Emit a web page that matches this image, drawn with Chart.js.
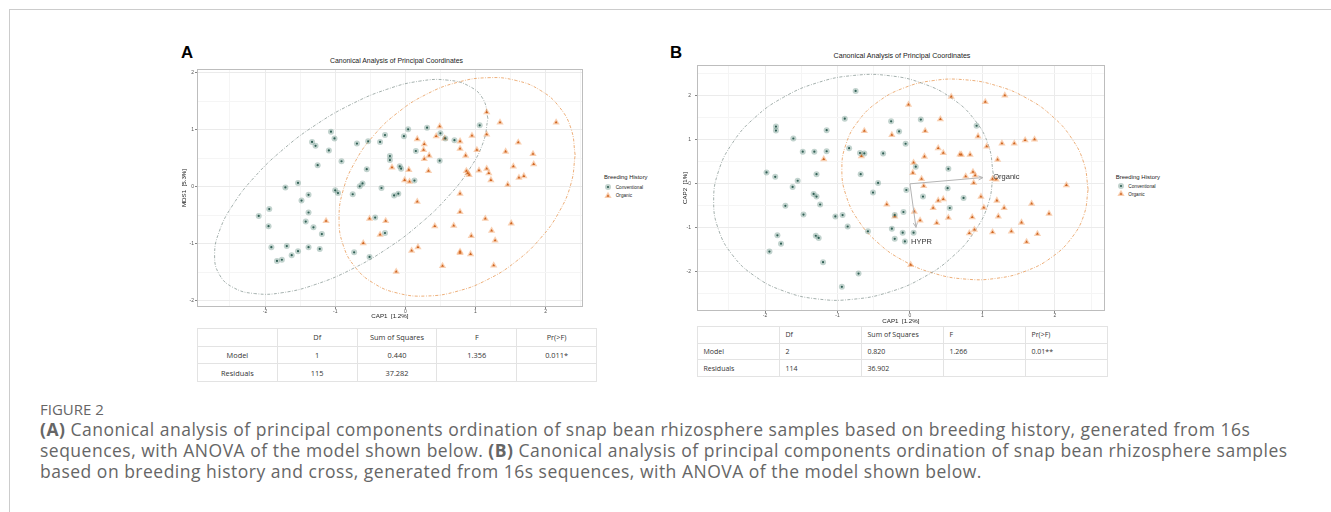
<!DOCTYPE html>
<html><head><meta charset="utf-8">
<script src="https://cdn.jsdelivr.net/npm/chart.js@4.4.0/dist/chart.umd.min.js"></script>
<style>
html,body{margin:0;padding:0;background:#fff;}
body{width:1331px;height:512px;position:relative;overflow:hidden;font-family:'Liberation Sans',Arial,sans-serif;}
.abs{position:absolute;white-space:nowrap;}
canvas{position:absolute;}
table.anova{position:absolute;border-collapse:collapse;table-layout:fixed;font-family:'Open Sans',sans-serif;color:#333;background:#fff;}
table.anova td{border:1px solid #e3e3e3;padding:0;overflow:hidden;white-space:nowrap;box-sizing:border-box;}
</style></head><body>
<div class="abs" style="left:9px;top:9px;width:1330px;height:510px;border-left:1px solid #cccccc;border-top:1px solid #cccccc;"></div>

<div class="abs" style="left:181px;top:45px;font-weight:bold;font-size:16.8px;line-height:16.8px;color:#000;">A</div>
<div class="abs" style="left:670px;top:45px;font-weight:bold;font-size:16.8px;line-height:16.8px;color:#000;">B</div>
<div class="abs" id="titleA" style="left:396.5px;top:55.7px;transform:translateX(-50%);font-size:6.9px;line-height:10px;color:#222;">Canonical Analysis of Principal Coordinates</div>
<div class="abs" id="titleB" style="left:902px;top:50.7px;transform:translateX(-50%);font-size:7.1px;line-height:10px;color:#222;">Canonical Analysis of Principal Coordinates</div>

<canvas id="chartA" width="412" height="256" style="left:175px;top:64px;"></canvas>
<canvas id="chartB" width="431" height="267" style="left:678px;top:58px;"></canvas>

<div id="legends"></div>
<div id="tables"></div>

<div class="abs" style="left:40px;top:400px;font-family:'Open Sans',sans-serif;font-size:15px;line-height:18px;color:#666;">FIGURE 2</div>
<div class="abs" style="left:40px;top:418.5px;font-family:'Open Sans',sans-serif;font-size:17.5px;letter-spacing:0.5px;line-height:21px;color:#666;">
<b>(A)</b> Canonical analysis of principal components ordination of snap bean rhizosphere samples based on breeding history, generated from 16s<br>
sequences, with ANOVA of the model shown below. <b>(B)</b> Canonical analysis of principal components ordination of snap bean rhizosphere samples<br>
based on breeding history and cross, generated from 16s sequences, with ANOVA of the model shown below.
</div>

<script>
// ---------------- data ----------------
const convA = [[-2.09,-0.51],[-1.94,-0.39],[-1.95,-0.69],[-1.91,-1.06],[-1.83,-1.30],[-1.76,-1.28],[-1.69,-1.04],[-1.62,-1.20],[-1.53,-1.13],[-1.38,-1.06],[-1.22,-1.09],[-1.71,-0.01],[-1.53,0.07],[-1.48,-0.24],[-1.38,-0.14],[-1.38,-0.45],[-1.42,-0.61],[-1.31,-0.71],[-1.19,-0.83],[-1.33,0.79],[-1.28,0.72],[-1.25,0.38],[-1.06,0.97],[-1.01,0.85],[-1.09,0.64],[-0.91,0.45],[-1.00,-0.06],[-0.96,-0.11],[-0.69,0.76],[-0.53,0.80],[-0.55,0.31],[-0.65,0.01],[-0.61,0.06],[-0.75,-0.13],[-0.43,-0.54],[-0.29,-0.81],[-0.73,-1.15],[-0.51,-1.23],[-0.36,0.79],[-0.29,0.91],[-0.34,-0.02],[-0.22,0.54],[-0.22,0.47],[-0.16,-0.15],[-0.10,-0.12],[-0.08,0.36],[-0.06,0.32],[-0.02,0.89],[0.04,1.01],[0.13,0.11],[0.15,0.63],[0.31,1.04],[0.50,0.94],[0.49,0.46],[0.57,0.85],[0.70,0.82],[1.06,1.08]];
const orgA = [[-1.13,-0.60],[-0.51,-0.56],[-0.28,-0.60],[-0.36,-0.84],[-0.60,-0.99],[-0.13,-1.49],[0.09,-1.12],[0.18,-1.06],[-0.19,0.34],[0.05,0.30],[-0.01,0.12],[0.06,0.09],[0.17,-0.26],[0.17,0.84],[0.27,0.75],[0.26,0.65],[0.27,0.49],[0.34,0.55],[0.33,0.28],[0.49,1.06],[0.44,0.89],[0.56,0.85],[0.78,0.80],[0.78,0.67],[0.86,0.55],[0.95,0.90],[1.02,0.65],[1.16,1.31],[1.16,0.92],[1.35,1.13],[2.15,1.13],[0.87,0.28],[0.89,0.24],[0.91,0.21],[1.05,0.29],[1.16,0.32],[1.19,0.24],[1.22,0.12],[1.43,0.62],[1.61,0.78],[1.82,0.58],[1.54,0.36],[1.83,0.40],[1.62,0.16],[1.69,0.19],[1.46,0.04],[0.78,-0.12],[0.78,-0.44],[0.42,-0.69],[0.69,-0.68],[1.14,-0.56],[1.51,-0.64],[0.94,-0.86],[1.23,-0.77],[1.28,-0.94],[0.78,-1.14],[0.78,-1.16],[0.93,-1.18],[0.53,-1.39],[1.26,-1.38]];
const convB = [[-0.75,2.11],[-0.90,1.48],[-1.15,1.22],[-1.85,1.30],[-1.85,1.21],[-1.61,1.03],[-1.48,0.73],[-1.32,0.73],[-1.15,0.74],[-0.84,0.81],[-0.69,0.70],[-0.63,0.69],[-0.37,0.69],[-1.98,0.26],[-1.86,0.16],[-1.29,0.22],[-1.55,0.07],[-1.62,-0.07],[-0.68,0.22],[-0.44,0.02],[-0.51,-0.20],[-1.33,-0.23],[-1.29,-0.29],[-1.24,-0.47],[-1.72,-0.50],[-1.47,-0.70],[-1.03,-0.74],[-0.93,-0.71],[-0.86,-0.97],[-1.83,-1.17],[-1.78,-1.36],[-1.94,-1.54],[-1.30,-1.18],[-1.26,-1.23],[-1.20,-1.78],[-0.71,-2.04],[-0.94,-2.34],[-0.58,-1.08],[-0.26,1.42],[-0.15,1.19],[-0.06,0.91],[0.15,1.46],[0.08,0.39],[-0.05,-0.14],[0.18,-0.29],[-0.09,-0.64],[-0.21,-0.71],[-0.25,-1.02],[-0.21,-1.25],[-0.10,-1.11],[-0.07,-1.31],[0.05,-1.11],[0.53,0.34],[0.52,-0.10],[0.55,-0.55],[0.74,-0.32],[0.92,1.32]];
const orgB = [[-0.02,1.80],[0.57,1.98],[1.04,1.86],[1.31,2.01],[0.42,1.47],[-0.63,1.20],[-0.25,1.11],[0.21,1.20],[0.94,1.08],[1.06,0.85],[1.27,0.92],[1.44,0.92],[1.59,0.99],[1.72,1.01],[-1.19,0.56],[-0.67,0.63],[0.20,0.62],[0.39,0.81],[0.46,0.70],[0.69,0.67],[0.71,0.66],[0.83,0.66],[1.21,0.55],[0.05,0.48],[0.04,0.25],[0.77,0.17],[0.87,0.27],[0.90,0.19],[0.88,0.02],[1.14,0.11],[1.19,0.10],[0.16,0.11],[0.19,-0.05],[2.16,-0.03],[0.98,-0.29],[1.20,-0.38],[0.39,-0.38],[0.46,-0.35],[0.32,-0.55],[-0.32,-0.47],[-0.21,-0.74],[0.06,-0.63],[0.14,-0.83],[0.37,-0.89],[0.53,-0.77],[0.86,-0.76],[1.02,-0.54],[1.22,-0.74],[1.30,-0.55],[1.68,-0.45],[1.92,-0.68],[1.54,-0.88],[0.89,-1.04],[0.82,-1.12],[1.14,-1.10],[1.40,-1.08],[1.76,-1.14],[1.61,-1.32],[0.01,-1.84]];

const ellConvA = [[1.177,1.201],[1.111,1.536],[0.916,1.765],[0.606,1.874],[0.203,1.857],[-0.266,1.712],[-0.771,1.450],[-1.276,1.090],[-1.745,0.655],[-2.148,0.176],[-2.458,-0.315],[-2.653,-0.784],[-2.719,-1.201],[-2.653,-1.536],[-2.458,-1.765],[-2.148,-1.874],[-1.745,-1.857],[-1.276,-1.712],[-0.771,-1.450],[-0.266,-1.090],[0.203,-0.655],[0.606,-0.176],[0.916,0.315],[1.111,0.784]];
const ellOrgA = [[2.421,0.560],[2.364,1.016],[2.196,1.402],[1.928,1.693],[1.580,1.868],[1.174,1.917],[0.738,1.834],[0.302,1.627],[-0.104,1.308],[-0.452,0.901],[-0.720,0.432],[-0.888,-0.066],[-0.945,-0.560],[-0.888,-1.016],[-0.720,-1.402],[-0.452,-1.693],[-0.104,-1.868],[0.302,-1.917],[0.738,-1.834],[1.174,-1.627],[1.580,-1.308],[1.928,-0.901],[2.196,-0.432],[2.364,0.066]];
const ellConvB = [[1.150,0.227],[1.084,0.875],[0.891,1.457],[0.585,1.934],[0.185,2.275],[-0.280,2.456],[-0.780,2.462],[-1.280,2.296],[-1.745,1.967],[-2.145,1.500],[-2.451,0.925],[-2.644,0.281],[-2.710,-0.387],[-2.644,-1.035],[-2.451,-1.617],[-2.145,-2.094],[-1.745,-2.435],[-1.280,-2.616],[-0.780,-2.622],[-0.280,-2.456],[0.185,-2.127],[0.585,-1.660],[0.891,-1.085],[1.084,-0.441]];
const ellOrgB = [[2.460,-0.128],[2.402,0.466],[2.232,1.035],[1.962,1.540],[1.610,1.947],[1.200,2.228],[0.760,2.364],[0.320,2.346],[-0.090,2.175],[-0.442,1.862],[-0.712,1.429],[-0.882,0.906],[-0.940,0.328],[-0.882,-0.266],[-0.712,-0.835],[-0.442,-1.340],[-0.090,-1.747],[0.320,-2.028],[0.760,-2.164],[1.200,-2.146],[1.610,-1.975],[1.962,-1.662],[2.232,-1.229],[2.402,-0.706]];

const arrowOrganicB = [[0,0],[1.008,0.142]];
const arrowHyprB = [[0,0],[0.083,-0.99]];
const vectorLabelsB = [{text:'Organic', x:1.15, y:0.16}, {text:'HYPR', x:0.015, y:-1.31}];

const ticksX = [-2.5,-2,-1.5,-1,-0.5,0,0.5,1,1.5,2,2.5];
const ticksYA = [-2,-1.5,-1,-0.5,0,0.5,1,1.5,2];
const ticksYB = [-2.5,-2,-1.5,-1,-0.5,0,0.5,1,1.5,2,2.5];
const rangeA = {xmin:-2.97, xmax:2.53, ymin:-2.11, ymax:2.07};
const rangeB = {xmin:-2.94, xmax:2.69, ymin:-2.89, ymax:2.70};

const groups = ['Conventional','Organic'];
const legendTitle = 'Breeding History';
const tableHeader = ['', 'Df', 'Sum of Squares', 'F', 'Pr(>F)'];
const tableA = [['Model','1','0.440','1.356','0.011*'],['Residuals','115','37.282','','']];
const tableB = [['Model','2','0.820','1.266','0.01**'],['Residuals','114','36.902','','']];

// ---------------- styles ----------------
const FONT = "'Liberation Sans', Arial, sans-serif";
const COL = {convBg:'rgba(110,150,138,0.42)', convDot:'#2f5f54', orgBg:'rgba(244,160,100,0.50)', orgDot:'#cf6520', convEll:'#8d9c98', orgEll:'#e99a58', arrow:'#b4b4b4'};

function pts(a){return a.map(p=>({x:p[0],y:p[1]}));}
function closed(a){return pts(a.concat([a[0]]));}

const borderPlugin = {
  id:'panelBorder',
  afterDraw(chart, args, opts){
    const {ctx, chartArea:a} = chart;
    ctx.save(); ctx.strokeStyle = opts.color || '#bbb'; ctx.lineWidth = 1;
    ctx.strokeRect(Math.round(a.left)+0.5, Math.round(a.top)+0.5, Math.round(a.right-a.left)-1, Math.round(a.bottom-a.top)-1);
    ctx.restore();
  }
};
const arrowPlugin = {
  id:'arrowHeads',
  afterDatasetsDraw(chart){
    const ctx = chart.ctx;
    chart.data.datasets.forEach((ds,i)=>{
      if(!ds.arrowHead) return;
      const m = chart.getDatasetMeta(i);
      const p0 = m.data[0], p1 = m.data[m.data.length-1];
      const ang = Math.atan2(p1.y-p0.y, p1.x-p0.x), L = 5, w = 0.42;
      ctx.save(); ctx.strokeStyle = ds.borderColor; ctx.lineWidth = 1;
      ctx.beginPath();
      ctx.moveTo(p1.x - L*Math.cos(ang-w), p1.y - L*Math.sin(ang-w));
      ctx.lineTo(p1.x, p1.y);
      ctx.lineTo(p1.x - L*Math.cos(ang+w), p1.y - L*Math.sin(ang+w));
      ctx.stroke(); ctx.restore();
    });
  }
};
const labelPlugin = {
  id:'vecLabels',
  afterDatasetsDraw(chart, args, opts){
    const items = opts.items || [];
    const ctx = chart.ctx;
    ctx.save(); ctx.fillStyle = '#333'; ctx.font = "7.5px " + FONT; ctx.textAlign='left'; ctx.textBaseline='middle';
    items.forEach(it=>{
      ctx.fillText(it.text, chart.scales.x.getPixelForValue(it.x), chart.scales.y.getPixelForValue(it.y));
    });
    ctx.restore();
  }
};

function axis(pos, min, max, tickList, title, o){
  const isInt = c => c && c.tick && Number.isInteger(c.tick.value);
  return {
    type:'linear', position:pos, min:min, max:max,
    afterBuildTicks: s => { s.ticks = tickList.map(v=>({value:v})); },
    afterFit: s => { if(pos==='left') s.width = o.size; else s.height = o.size; },
    grid:{ color: c => isInt(c) ? '#ebebeb' : '#f5f5f5', lineWidth:1, tickLength:2,
           tickColor: c => isInt(c) ? '#666' : 'rgba(0,0,0,0)', tickWidth:0.8 },
    border:{display:false},
    ticks:{ autoSkip:false, maxRotation:0, minRotation:0, padding:o.pad, color:'#555',
            font:{family:FONT, size:5}, callback: v => Number.isInteger(v) ? String(v) : '' },
    title:{ display:true, text:title, color:'#222', font:{family:FONT, size:6.2}, padding:o.tpad }
  };
}

function makeChart(id, d){
  const datasets = [];
  (d.arrows||[]).forEach(a=>datasets.push({data:pts(a), showLine:true, pointRadius:0, borderColor:COL.arrow, borderWidth:1, arrowHead:true, order:0}));
  datasets.push({label:groups[0], data:pts(d.conv), pointStyle:'circle', pointRadius:1.1, pointBackgroundColor:COL.convDot, pointBorderWidth:0, order:1});
  datasets.push({label:groups[1], data:pts(d.org), pointStyle:'triangle', pointRadius:1.7, pointBackgroundColor:COL.orgDot, pointBorderWidth:0, order:1});
  datasets.push({data:pts(d.conv), pointStyle:'circle', pointRadius:3.0, pointBackgroundColor:COL.convBg, pointBorderWidth:0, order:2});
  datasets.push({data:pts(d.org), pointStyle:'triangle', pointRadius:4.2, pointBackgroundColor:COL.orgBg, pointBorderWidth:0, order:2});
  datasets.push({data:closed(d.ellConv), showLine:true, pointRadius:0, borderColor:COL.convEll, borderWidth:0.8, borderDash:[3,1.5,0.8,1.5], tension:0.45, fill:false, order:3});
  datasets.push({data:closed(d.ellOrg), showLine:true, pointRadius:0, borderColor:COL.orgEll, borderWidth:0.8, borderDash:[3,1.5,0.8,1.5], tension:0.45, fill:false, order:3});
  return new Chart(document.getElementById(id), {
    type:'scatter',
    data:{datasets},
    options:{
      responsive:false, animation:false, events:[], devicePixelRatio:1,
      layout:{padding:d.padding},
      scales:{
        x: axis('bottom', d.range.xmin, d.range.xmax, ticksX, d.xTitle, d.xo),
        y: axis('left', d.range.ymin, d.range.ymax, d.yTicks, d.yTitle, d.yo)
      },
      plugins:{ legend:{display:false}, tooltip:{enabled:false}, title:{display:false},
                panelBorder:{color:'#bdbdbd'}, vecLabels:{items:d.labels||[]} }
    },
    plugins:[borderPlugin, arrowPlugin, labelPlugin]
  });
}

makeChart('chartA', {conv:convA, org:orgA, ellConv:ellConvA, ellOrg:ellOrgA, range:rangeA, yTicks:ticksYA,
  xTitle:'CAP1  [1.2%]', yTitle:'MDS1  [5.3%]', padding:{top:5,right:2,left:0,bottom:0},
  xo:{size:13, pad:0, tpad:{top:0,bottom:0}}, yo:{size:22, pad:1, tpad:{top:6,bottom:0}}});
makeChart('chartB', {conv:convB, org:orgB, ellConv:ellConvB, ellOrg:ellOrgB, range:rangeB, yTicks:ticksYB,
  xTitle:'CAP1  [1.2%]', yTitle:'CAP2  [1%]', padding:{top:4,right:2,left:0,bottom:0},
  arrows:[arrowOrganicB, arrowHyprB], labels:vectorLabelsB,
  xo:{size:14, pad:0, tpad:{top:0,bottom:0}}, yo:{size:19, pad:4, tpad:{top:4,bottom:0}}});

// ---------------- legends ----------------
function markerSvg(kind){
  if(kind===0) return '<svg width="10" height="10" viewBox="-5 -5 10 10" style="position:absolute;left:0;top:0"><circle r="3" fill="'+COL.convBg+'"/><circle r="1.1" fill="'+COL.convDot+'"/></svg>';
  return '<svg width="10" height="10" viewBox="-5 -5 10 10" style="position:absolute;left:0;top:0"><polygon points="0,-4.2 3.64,2.1 -3.64,2.1" fill="'+COL.orgBg+'"/><polygon points="0,-1.7 1.47,0.85 -1.47,0.85" fill="'+COL.orgDot+'"/></svg>';
}
function legend(L){
  let h = '<div class="abs" style="left:'+L.x+'px;top:'+(L.ty-3.5)+'px;font-size:'+L.tf+'px;line-height:7px;color:#222;">'+legendTitle+'</div>';
  groups.forEach((g,i)=>{
    const cy = L.iy[i];
    h += '<div class="abs" style="left:'+(L.mx-5)+'px;top:'+(cy-5)+'px;width:10px;height:10px;">'+markerSvg(i)+'</div>';
    h += '<div class="abs" style="left:'+L.tx+'px;top:'+(cy-3.5)+'px;font-size:4.7px;line-height:7px;color:#222;">'+g+'</div>';
  });
  return h;
}
document.getElementById('legends').innerHTML =
  legend({x:604, ty:177.7, tf:5.9, mx:607.5, tx:615.7, iy:[187,195.7]}) +
  legend({x:1115.7, ty:177.3, tf:6.0, mx:1120.7, tx:1128.3, iy:[186,194]});

// ---------------- tables ----------------
function table(rows, T){
  let h = '<table class="anova" style="left:'+T.x+'px;top:'+T.y+'px;width:'+T.w+'px;font-size:'+T.fs+'px;">';
  const all = [tableHeader].concat(rows);
  all.forEach(r=>{
    h += '<tr style="height:'+T.rh+'px">';
    r.forEach((c,j)=>{ h += '<td style="height:'+T.rh+'px;text-align:'+T.align+';padding-left:'+(T.align==='left'?T.pl:0)+'px">'+c+'</td>'; });
    h += '</tr>';
  });
  return h + '</table>';
}
document.getElementById('tables').innerHTML =
  table(tableA, {x:197, y:328, w:400, rh:17.7, fs:7.4, align:'center', pl:0}) +
  table(tableB, {x:697, y:326, w:411, rh:16.7, fs:7, align:'left', pl:5.5});
</script>
</body></html>
